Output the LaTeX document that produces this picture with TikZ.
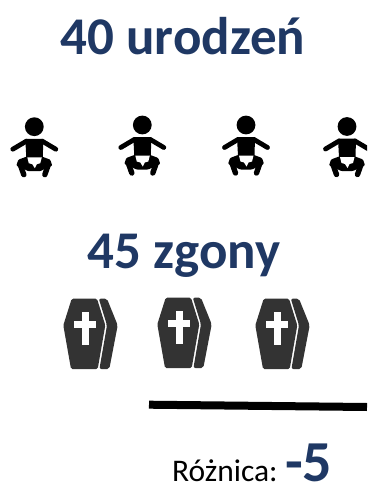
\documentclass[tikz,border=0pt]{standalone}
\usepackage{fontspec}
\setmainfont{Carlito}
\definecolor{navy}{HTML}{1F3864}
\definecolor{coffin}{HTML}{333333}
\tikzset{
  x=1pt,y=-1pt,
  title/.style={font=\fontsize{53}{53}\selectfont\bfseries,text=navy,inner sep=0pt,anchor=base},
  babylimb/.style={draw=black,line width=4.8pt,line cap=round,line join=round},
  pics/baby/.style={code={
    \fill[black] (0,0) circle (9.4);
    \fill[black] (-9,12.2) -- (9,12.2) -- (8.5,31) -- (-8,31) -- cycle;
    \draw[babylimb] (-8,14.5) -- (-21.5,22.5);
    \draw[babylimb] (8,14.5) -- (21.5,22.5);
    \fill[black,rounded corners=1pt] (-8,30) -- (-16,33) -- (-18,39) -- (-13,41) -- (-6,44.5) -- (6,44.5) -- (13,41) -- (18,39) -- (16,33) -- (8,30) -- cycle;
    \draw[babylimb,line width=5.4pt] (-14.2,37.5) -- (-10.5,48);
    \draw[babylimb,line width=5.4pt] (14.2,37.5) -- (10.5,48);
    \fill[white] (-7,30.7) -- (7.5,30.7) -- (6,36.5) -- (2.5,37.5) -- (0.5,41.5) -- (-2,37.5) -- (-5.5,36.5) -- cycle;
  }},
  pics/coffinshape/.style={code={
    \fill[coffin,rounded corners=1.5pt] (1.7,0.7) -- (27,0.7) -- (35.3,27.3) -- (27.7,71) -- (1,71) -- (-6.7,27.3) -- cycle;
    \fill[coffin,rounded corners=2pt] (28.8,0.7) -- (37,0.7) -- (47.7,27.3) -- (39.3,71) -- (29.4,71) -- (37,27.3) -- cycle;
    \fill[white] (12,13.7) rectangle (19,47);
    \fill[white] (4,23) rectangle (26,30.3);
  }}
}
\begin{document}
\begin{tikzpicture}
\useasboundingbox (0,0) rectangle (367,484);
\clip (0,0) rectangle (367,484);
\node[title] (births) at (183,55) {40 urodzeń};
\node[title] (deaths) at (184,268) {45 zgony};
\pic at (34.3,126.7) {baby};
\pic at (142.3,125) {baby};
\pic at (246,125) {baby};
\pic at (347,126.5) {baby};
\pic at (70,298) {coffinshape};
\pic at (164,297) {coffinshape};
\pic at (262,298) {coffinshape};
\coordinate (a) at (149,404.7);
\coordinate (b) at (367,407);
\draw[black,line width=8pt] (a) -- (b);
\node[inner sep=0pt,anchor=base west,font=\fontsize{31.5}{31.5}\selectfont] (diff) at (172,481.5) {Różnica:};
\node[inner sep=0pt,anchor=base west,font=\fontsize{58}{58}\selectfont\bfseries,text=navy] (val) at (285,481.5) {-5};
\end{tikzpicture}
\end{document}
